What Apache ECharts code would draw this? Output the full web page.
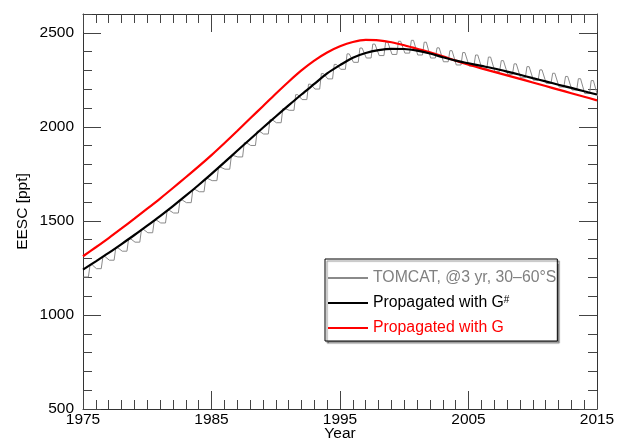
<!DOCTYPE html>
<html>
<head>
<meta charset="utf-8">
<script src="https://cdn.jsdelivr.net/npm/echarts@6/dist/echarts.min.js"></script>
<style>
html,body{margin:0;padding:0;background:#fff;}
#chart{width:617px;height:443px;}
</style>
</head>
<body>
<div id="chart"></div>
<script>
// ---- data ----
const years = [1975,1976,1977,1978,1979,1980,1981,1982,1983,1984,1985,1986,1987,1988,1989,1990,1991,1992,1993,1994,1995,1996,1997,1998,1999,2000,2001,2002,2003,2004,2005,2006,2007,2008,2009,2010,2011,2012,2013,2014,2015];

// EESC propagated with G# (black)
const eescGSharp = [1241,1285,1330,1377,1425,1475,1526,1579,1634,1691,1750,1811,1873,1934,1995,2055,2114,2172,2228,2284,2328,2368,2393,2408,2415,2414,2405,2390,2370,2352,2338,2324,2310,2294,2277,2259,2242,2224,2207,2189,2172];

// EESC propagated with G (red)
const eescG = [1312,1360,1409,1460,1512,1565,1619,1675,1732,1790,1850,1913,1978,2044,2110,2176,2240,2300,2352,2395,2428,2451,2462,2460,2450,2434,2415,2396,2375,2352,2331,2311,2292,2274,2255,2236,2217,2198,2179,2160,2141];

// TOMCAT seasonal minima (per year, 1975..2015) and maxima (per year, 1975..2014)
const tomcatLow = [1202,1246,1291,1339,1387,1437,1489,1542,1597,1655,1714,1775,1840,1901,1962,2022,2088,2145,2201,2255,2306,2343,2366,2379,2385,2392,2382,2366,2346,2329,2323,2309,2295,2279,2261,2248,2231,2212,2196,2177,2165];
const tomcatHigh = [1266,1310,1357,1404,1454,1504,1556,1611,1667,1725,1785,1847,1916,1977,2038,2097,2171,2227,2283,2332,2388,2419,2440,2450,2455,2460,2450,2420,2405,2395,2382,2371,2352,2335,2320,2303,2285,2268,2256,2246];

const xMajorTicks = [1975,1985,1995,2005,2015];
const yMajorTicks = [500,1000,1500,2000,2500];

const legendNames = ['TOMCAT, @3 yr, 30\u201360\u00b0S','Propagated with G#','Propagated with G'];

// ---- build series ----
const blackData = years.map((y,i)=>[y, eescGSharp[i]]);
const redData = years.map((y,i)=>[y, eescG[i]]);
const grayData = [];
years.forEach((y,i)=>{
  grayData.push([y+0.05, tomcatLow[i]]);
  grayData.push([y+0.42, tomcatLow[i]]);
  if (i < tomcatHigh.length) {
    grayData.push([y+0.55, tomcatHigh[i]]);
    grayData.push([y+0.72, tomcatHigh[i]]);
  }
});

const FONT = '"Liberation Sans", Arial, Helvetica, sans-serif';
const AXC = '#333';
const TICKC = '#444';

function yAx(pos, interval, len, labels){
  return {
    type:'value', position:pos, min:500, max:2600, interval:interval,
    axisLine:{show: interval===500, lineStyle:{color:AXC,width:1}},
    axisTick:{show:true, inside:true, length:len, lineStyle:{color:TICKC,width:1}},
    axisLabel:{show:labels, showMaxLabel:false, color:'#000', fontSize:15.5, fontFamily:FONT, margin:9,
      formatter:(v)=> yMajorTicks.indexOf(v)>=0 ? String(v) : ''},
    splitLine:{show:false},
    name: labels ? 'EESC [ppt]' : '',
    nameLocation:'middle', nameGap:52, nameRotate:90, nameMoveOverlap:false,
    nameTextStyle:{color:'#000', fontSize:15.5, fontFamily:FONT}
  };
}
function xAx(pos, interval, len, labels){
  return {
    type:'value', position:pos, min:1975, max:2015, interval:interval,
    axisLine:{show: interval===10, lineStyle:{color:AXC,width:1}},
    axisTick:{show:true, inside:true, length:len, lineStyle:{color:TICKC,width:1}},
    axisLabel:{show:labels, color:'#000', fontSize:15.5, fontFamily:FONT, margin:3,
      formatter:(v)=> xMajorTicks.indexOf(v)>=0 ? String(v) : ''},
    splitLine:{show:false},
    name: labels ? 'Year' : '',
    nameLocation:'middle', nameGap:17, nameMoveOverlap:false,
    nameTextStyle:{color:'#000', fontSize:15.5, fontFamily:FONT}
  };
}

const chart = echarts.init(document.getElementById('chart'), null, {renderer:'canvas'});
chart.setOption({
  animation:false,
  backgroundColor:'#fff',
  grid:{left:83, right:20, top:14, bottom:34, containLabel:false, outerBoundsMode:'none'},
  xAxis:[xAx('bottom',10,18,true), xAx('bottom',1,9,false), xAx('top',10,18,false), xAx('top',1,9,false)],
  yAxis:[yAx('left',500,18,true), yAx('left',100,9,false), yAx('right',500,18,false), yAx('right',100,9,false)],
  legend:{
    orient:'vertical', left:325, top:259,
    padding:[11,1,5,2], itemGap:9, itemWidth:40, itemHeight:14,
    backgroundColor:'#fff', borderColor:'#000', borderWidth:1,
    shadowColor:'rgba(0,0,0,0.45)', shadowBlur:1, shadowOffsetX:2, shadowOffsetY:2,
    itemStyle:{opacity:0},
    textStyle:{fontSize:15.8, fontFamily:FONT,
      rich:{sup:{fontSize:10, fontFamily:FONT, verticalAlign:'top', color:'#000'}}},
    formatter:(n)=> n==='Propagated with G#' ? 'Propagated with G{sup|#}' : n,
    data:[
      {name:legendNames[0], textStyle:{color:'#808080'}},
      {name:legendNames[1], textStyle:{color:'#000'}},
      {name:legendNames[2], textStyle:{color:'#ff0000'}}
    ]
  },
  series:[
    {name:legendNames[0], type:'line', xAxisIndex:0, yAxisIndex:0, data:grayData, symbol:'none',
      lineStyle:{color:'#8a8a8a', width:1}, itemStyle:{color:'#8a8a8a'}, z:2},
    {name:legendNames[1], type:'line', xAxisIndex:0, yAxisIndex:0, data:blackData, symbol:'none', smooth:0.3,
      lineStyle:{color:'#000', width:2.2}, itemStyle:{color:'#000'}, z:4},
    {name:legendNames[2], type:'line', xAxisIndex:0, yAxisIndex:0, data:redData, symbol:'none', smooth:0.3,
      lineStyle:{color:'#ff0000', width:2.2}, itemStyle:{color:'#ff0000'}, z:3}
  ]
});
</script>
</body>
</html>
